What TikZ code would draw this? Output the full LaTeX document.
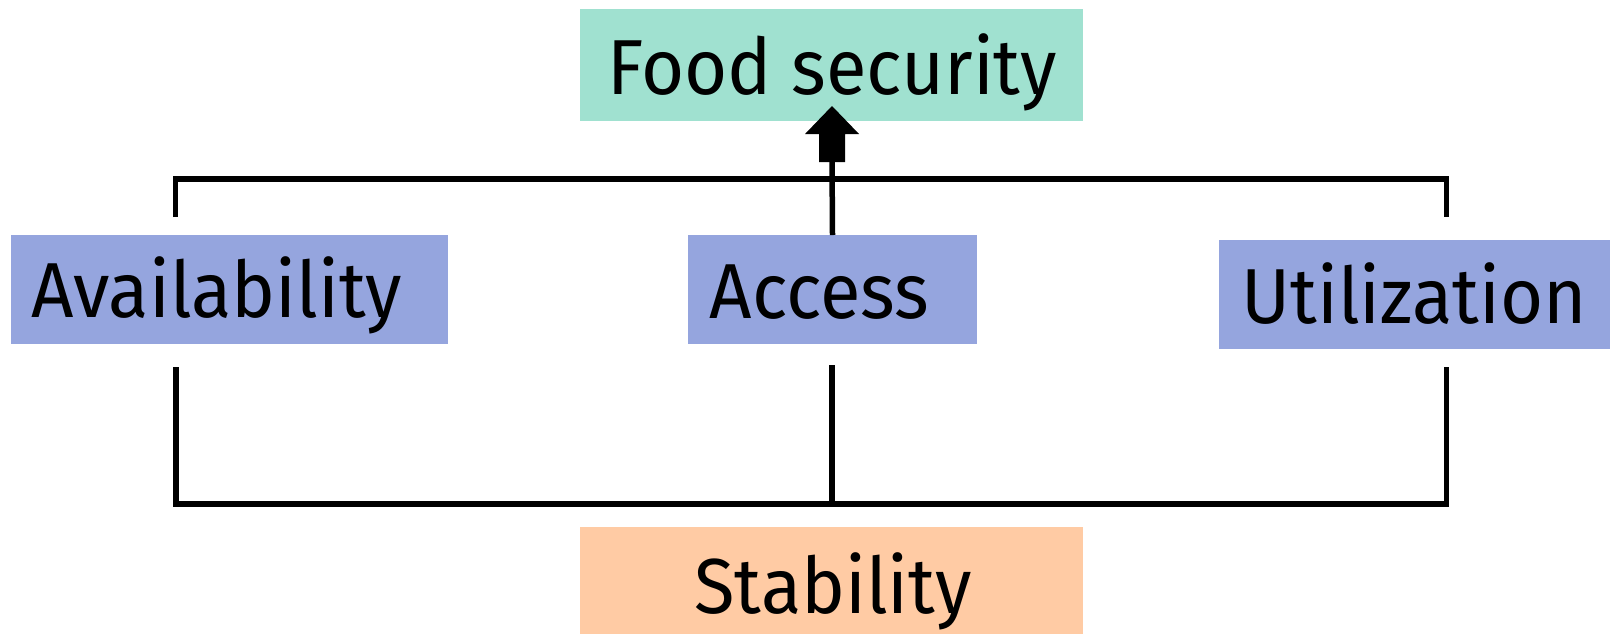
\documentclass[tikz,border=0pt]{standalone}
\usepackage{fontspec}
\setmainfont[FakeStretch=0.95]{Fira Sans}
\definecolor{goalfill}{RGB}{160,225,208}
\definecolor{pillarfill}{RGB}{149,165,222}
\definecolor{stabfill}{RGB}{255,203,164}
\begin{document}
\begin{tikzpicture}[x=0.5pt,y=-0.5pt,
  box/.style={inner sep=0pt, outer sep=0pt, anchor=north west},
  lbl/.style={inner sep=0pt, anchor=base, font=\fontsize{39}{44}\selectfont},
  link/.style={line width=2.75pt, line cap=butt, line join=miter}]
\useasboundingbox (0,0) rectangle (1610,633);

% boxes
\node[box, fill=goalfill,   minimum width=251.5pt, minimum height=56pt]   (food)  at (580,9)    {};
\node[box, fill=pillarfill, minimum width=218.5pt, minimum height=54.5pt] (avail) at (11,235)   {};
\node[box, fill=pillarfill, minimum width=144.5pt, minimum height=54.5pt] (acc)   at (688,235)  {};
\node[box, fill=pillarfill, minimum width=195.5pt, minimum height=54.5pt] (util)  at (1219,240) {};
\node[box, fill=stabfill,   minimum width=251.5pt, minimum height=56pt]   (stab)  at (580,527)  {};

% labels
\node[lbl] (foodt)  at (832,94)    {Food security};
\node[lbl] (availt) at (216.5,317) {Availability};
\node[lbl] (acct)   at (819.5,318) {Access};
\node[lbl] (utilt)  at (1414,323)  {Utilization};
\node[lbl] (stabt)  at (833,613)   {Stability};

% bracket ends
\coordinate (tl) at (175.5,217);
\coordinate (tr) at (1446.5,217);
\coordinate (bl) at (176,367);
\coordinate (bc) at (832,365);
\coordinate (br) at (1446.5,367);
\coordinate (shaft) at (832,162);

% upper bracket
\draw[link] (tl) -- (175.5,179) -- (1446.5,179) -- (tr);
% lower bracket
\draw[link] (bl) -- (176,504) -- (1446.5,504) -- (br);
\draw[link] (bc) -- (832,504);

% access to food security, with block arrow head
\draw[link] (acc.north) -- (shaft);
\fill (shaft) ++(-13,0) -- ++(0,-28) -- ++(-14,0) -- ++(27,-28) -- ++(27,28)
      -- ++(-14,0) -- ++(0,28) -- cycle;
\end{tikzpicture}
\end{document}
